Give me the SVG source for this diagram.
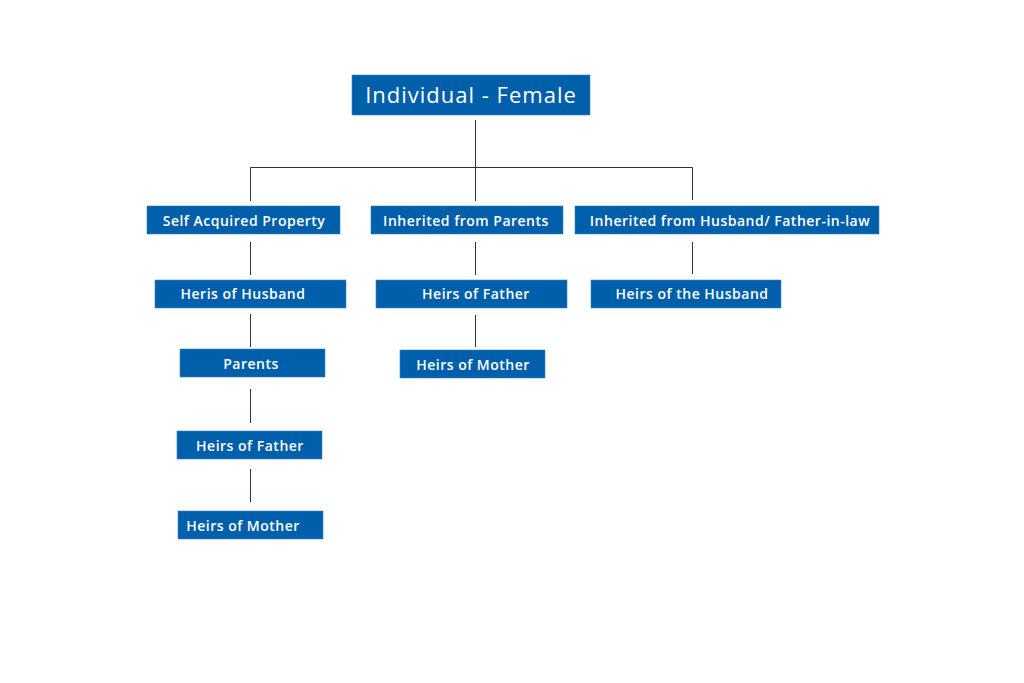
<svg xmlns="http://www.w3.org/2000/svg" width="1024" height="683" viewBox="0 0 1024 683">
<style>
.box{fill:#005faa;stroke:#3b82c4;stroke-width:0.6}
.t{fill:#ffffff;font-family:"Open Sans","Noto Sans",sans-serif;font-weight:600;font-size:14px;letter-spacing:0.5px;text-anchor:middle}
.root{font-size:22px;font-weight:500;letter-spacing:1px}
.c{stroke:#333333;stroke-width:1;fill:none}
</style>
<rect width="1024" height="683" fill="#ffffff"/>
<g id="connectors">
<path class="c" d="M475.5 120V167.5M250.5 167.5H692.5M250.5 167.5V201M475.5 167.5V201M692.5 167.5V200"/>
<path class="c" d="M250.5 242V275M475.5 242V275M692.5 242V274"/>
<path class="c" d="M250.5 314V347M250.5 389V423M250.5 469V502M475.5 315V347"/>
</g>
<g id="root"><rect class="box" x="352" y="75" width="238" height="40"/><text class="t root" x="471" y="103">Individual - Female</text></g>
<g id="self"><rect class="box" x="147" y="206" width="193" height="28"/><text class="t" x="244" y="226">Self Acquired Property</text></g>
<g id="parents-inh"><rect class="box" x="371" y="206" width="192" height="28"/><text class="t" x="466" y="226">Inherited from Parents</text></g>
<g id="husband-inh"><rect class="box" x="575" y="206" width="304" height="28"/><text class="t" x="730" y="226">Inherited from Husband/ Father-in-law</text></g>
<g id="heris-husband"><rect class="box" x="155" y="280" width="191" height="28"/><text class="t" x="243" y="299">Heris of Husband</text></g>
<g id="heirs-father-mid"><rect class="box" x="376" y="280" width="191" height="28"/><text class="t" x="476" y="299">Heirs of Father</text></g>
<g id="heirs-the-husband"><rect class="box" x="591" y="280" width="190" height="28"/><text class="t" x="692" y="299">Heirs of the Husband</text></g>
<g id="parents"><rect class="box" x="180" y="349" width="145" height="28"/><text class="t" x="251" y="369">Parents</text></g>
<g id="heirs-mother-mid"><rect class="box" x="400" y="350" width="145" height="28"/><text class="t" x="473" y="370">Heirs of Mother</text></g>
<g id="heirs-father-left"><rect class="box" x="177" y="431" width="145" height="28"/><text class="t" x="250" y="451">Heirs of Father</text></g>
<g id="heirs-mother-left"><rect class="box" x="178" y="511" width="145" height="28"/><text class="t" x="243" y="531">Heirs of Mother</text></g>
</svg>
